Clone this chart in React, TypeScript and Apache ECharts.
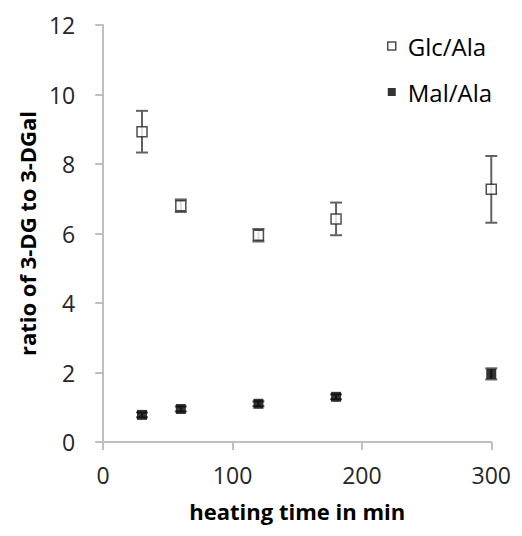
import React, { useEffect, useRef } from "react";
import * as echarts from "echarts";

const times = [30, 60, 120, 180, 300];
const glcAla = [8.93, 6.8, 5.95, 6.42, 7.27];
const glcAlaErr = [0.6, 0.18, 0.18, 0.47, 0.96];
const malAla = [0.78, 0.95, 1.1, 1.3, 1.96];
const malAlaErr = [0.07, 0.07, 0.07, 0.07, 0.16];
const yTicks = [0, 2, 4, 6, 8, 10, 12];
const xTicks = [0, 100, 200, 300];

const FONT = "'Open Sans', 'Liberation Sans', sans-serif";
const ERR_COLOR = "#626262";

function errorSeries(vals: number[], errs: number[]) {
  const data = times.map((t, i) => [t, vals[i] - errs[i], vals[i] + errs[i]]);
  return {
    type: "custom",
    silent: true,
    z: 1,
    renderItem: (params: any, api: any) => {
      const x = api.value(0);
      const lo = api.coord([x, api.value(1)]);
      const hi = api.coord([x, api.value(2)]);
      const cap = 6;
      const style = { stroke: ERR_COLOR, lineWidth: 2, fill: "none" };
      return {
        type: "group",
        children: [
          { type: "line", shape: { x1: lo[0], y1: lo[1], x2: hi[0], y2: hi[1] }, style },
          { type: "line", shape: { x1: lo[0] - cap, y1: lo[1], x2: lo[0] + cap, y2: lo[1] }, style },
          { type: "line", shape: { x1: hi[0] - cap, y1: hi[1], x2: hi[0] + cap, y2: hi[1] }, style },
        ],
      };
    },
    data,
  };
}

export default function App() {
  const ref = useRef<HTMLDivElement>(null);
  useEffect(() => {
    if (!ref.current) return;
    const chart = echarts.init(ref.current, undefined, { renderer: "svg" });
    chart.setOption({
      animation: false,
      backgroundColor: "#ffffff",
      grid: { left: 93, right: 17, top: 17, bottom: 86, containLabel: false },
      legend: {
        orient: "vertical",
        left: 374,
        top: 21,
        itemWidth: 8,
        itemHeight: 8,
        itemGap: 22,
        textStyle: { fontFamily: FONT, fontSize: 24, color: "#000", padding: [0, 0, 0, 7] },
        data: [
          { name: "Glc/Ala", icon: "rect", itemStyle: { color: "#fff", borderColor: "#222", borderWidth: 1.5 } },
          { name: "Mal/Ala", icon: "rect", itemStyle: { color: "#000" } },
        ],
      },
      xAxis: {
        type: "value",
        min: 0,
        max: 300,
        interval: 100,
        name: "heating time in min",
        nameLocation: "middle",
        nameGap: 58,
        nameTextStyle: { fontFamily: FONT, fontSize: 22, fontWeight: "bold", color: "#000" },
        axisLine: { lineStyle: { color: "#bfbfbf", width: 2 } },
        axisTick: { show: true, length: 8, lineStyle: { color: "#bfbfbf", width: 2 } },
        axisLabel: {
          fontFamily: FONT,
          fontSize: 23,
          color: "#262626",
          margin: 21,
          formatter: (v: number) => (xTicks.includes(v) ? String(v) : ""),
        },
        splitLine: { show: false },
      },
      yAxis: {
        type: "value",
        min: 0,
        max: 12,
        interval: 2,
        name: "ratio of 3-DG to 3-DGal",
        nameLocation: "middle",
        nameGap: 62,
        nameTextStyle: { fontFamily: FONT, fontSize: 22, fontWeight: "bold", color: "#000" },
        axisLine: { show: true, lineStyle: { color: "#bfbfbf", width: 2 } },
        axisTick: { show: true, length: 8, lineStyle: { color: "#bfbfbf", width: 2 } },
        axisLabel: {
          fontFamily: FONT,
          fontSize: 23,
          color: "#262626",
          margin: 28,
          formatter: (v: number) => (yTicks.includes(v) ? String(v) : ""),
        },
        splitLine: { show: false },
      },
      series: [
        errorSeries(glcAla, glcAlaErr),
        errorSeries(malAla, malAlaErr),
        {
          name: "Glc/Ala",
          type: "scatter",
          symbol: "rect",
          symbolSize: 10,
          z: 3,
          itemStyle: { color: "#fff", borderColor: "#222", borderWidth: 1.5 },
          data: times.map((t, i) => [t, glcAla[i]]),
        },
        {
          name: "Mal/Ala",
          type: "scatter",
          symbol: "rect",
          symbolSize: 10,
          z: 3,
          itemStyle: { color: "#000" },
          data: times.map((t, i) => [t, malAla[i]]),
        },
      ],
    });
    return () => chart.dispose();
  }, []);
  return <div ref={ref} style={{ width: 506, height: 520 }} />;
}
